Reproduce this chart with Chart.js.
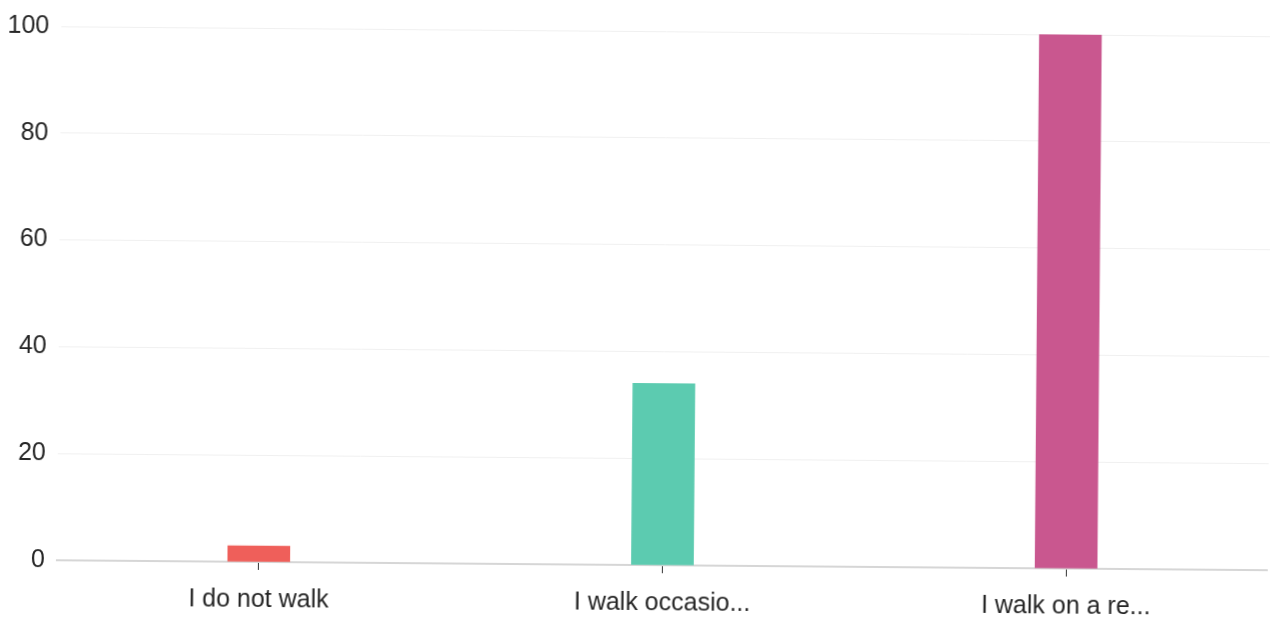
<!DOCTYPE html>
<html lang="en">
    <head>
        <meta charset="utf-8" />
        <title>Walking habits</title>
        <style>
            html, body { margin: 0; padding: 0; background: #fff; overflow: hidden; }
            /* the printed page sits a little crooked */
            #wrap { width: 1270px; height: 623px; transform: rotate(0.47deg); transform-origin: 50% 50%; }
        </style>
    </head>
    <body>
        <div id="wrap">
            <canvas id="walkingBarChart" width="1270" height="623"></canvas>
        </div>
        <script src="https://cdn.jsdelivr.net/npm/chart.js"></script>
        <script>
            // answers and counts
            const labels = ['I do not walk', 'I walk occasio...', 'I walk on a re...'];
            const counts = [3, 34, 100];
            const barColors = ['#ef5f5a', '#5ccbb0', '#c9578f'];
            const yTicks = [0, 20, 40, 60, 80, 100];

            const font = { family: "'Liberation Sans', Arial, sans-serif", size: 25 };

            const ctx = document.getElementById('walkingBarChart');
            new Chart(ctx, {
                type: 'bar',
                data: {
                    labels: labels,
                    datasets: [{
                        data: counts,
                        backgroundColor: barColors,
                        barThickness: 62
                    }]
                },
                options: {
                    responsive: false,
                    animation: false,
                    layout: { padding: { top: 31, right: 0, left: 5, bottom: 0 } },
                    plugins: {
                        legend: { display: false },
                        tooltip: { enabled: false }
                    },
                    scales: {
                        x: {
                            afterFit: axis => { axis.height = 58; },
                            grid: {
                                offset: false,
                                drawOnChartArea: false,
                                color: '#333',
                                tickLength: 8
                            },
                            border: { color: '#d6d6d6', width: 2 },
                            ticks: { color: '#262626', font: font, padding: 15 }
                        },
                        y: {
                            min: yTicks[0],
                            max: yTicks[yTicks.length - 1],
                            afterBuildTicks: axis => {
                                axis.ticks = yTicks.map(v => ({ value: v }));
                            },
                            afterFit: axis => { axis.width = 54; },
                            grid: { color: '#f0f0f0', drawTicks: false },
                            border: { display: false },
                            ticks: { color: '#262626', font: font, padding: 12 }
                        }
                    }
                }
            });
        </script>
    </body>
</html>
